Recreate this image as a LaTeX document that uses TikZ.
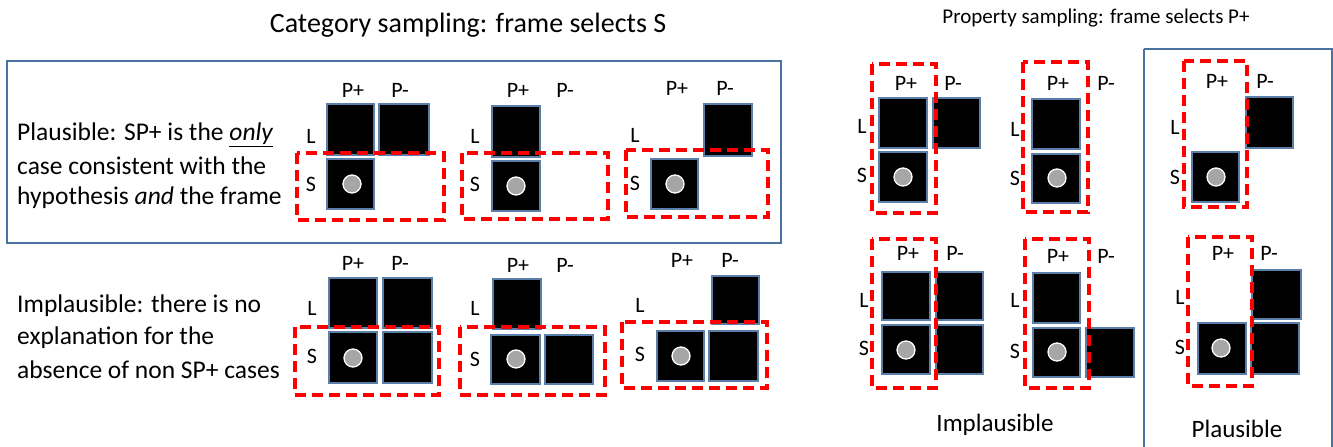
\documentclass[tikz,border=0pt]{standalone}
\usepackage{fontspec}
\setmainfont{Carlito}
\begin{document}
\begin{tikzpicture}[x=1pt,y=-1pt,
  blk/.style={fill=black,draw=boxedge,line width=1.2pt},
  dot/.style={fill=dotgray,draw=white,line width=1.3pt},
  frm/.style={draw=red,line width=3.4pt,dash pattern=on 11pt off 6pt},
  panel/.style={draw=panelblue,line width=1.2pt},
  lbl/.style={font=\fontsize{22}{26}\selectfont,inner sep=0pt},
  big/.style={font=\fontsize{25}{30}\selectfont,inner sep=0pt},
  txt/.style={font=\fontsize{25.5}{30}\selectfont,inner sep=0pt,anchor=west}]
\definecolor{boxedge}{HTML}{5B7FA8}
\definecolor{dotgray}{HTML}{A6A6A6}
\definecolor{panelblue}{HTML}{4A72A0}
\useasboundingbox (0,0) rectangle (1333,447);
% panels
\draw[panel] (7,61) rectangle (781,243);
\draw[panel] (1144,49) -- (1332,49) -- (1332,460) (1144,49) -- (1144,460);
% titles
\node[font=\fontsize{28}{32}\selectfont,inner sep=0pt] (t1) at (468,25) {Category sampling: frame selects S};
\node[lbl,font=\fontsize{21}{25}\selectfont] (t2) at (1096,18) {Property sampling: frame selects P+};
% left texts
\node[txt] (a1) at (17,135) {Plausible: SP+ is the \underline{\textit{only}}};
\node[txt] (a2) at (17,166) {case consistent with the};
\node[txt] (a3) at (17,198) {hypothesis \textit{and} the frame};
\node[txt] (b1) at (17,306) {Implausible: there is no};
\node[txt] (b2) at (17,338) {explanation for the};
\node[txt] (b3) at (17,370) {absence of non SP+ cases};
\node[big] (imp) at (995,425) {Implausible};
\node[big] (pla) at (1237,429) {Plausible};
% ---------- panel 1
\node[lbl] at (353,90) {P+}; \node[lbl] at (400,90) {P-};
\node[lbl] at (311,136) {L}; \node[lbl] at (311,184) {S};
\draw[blk] (327,104) rectangle (374,155);
\draw[blk] (379,104) rectangle (429,155);
\draw[blk] (327,159) rectangle (374,209);
\draw[dot] (352,184) circle (9);
\draw[frm] (297,153) rectangle (444,220);
% ---------- panel 2
\node[lbl] at (518,90) {P+}; \node[lbl] at (565,90) {P-};
\node[lbl] at (475,136) {L}; \node[lbl] at (475,184) {S};
\draw[blk] (492,106) rectangle (540,157);
\draw[blk] (492,161) rectangle (540,211);
\draw[dot] (516,186) circle (9);
\draw[frm] (462,153) rectangle (608,219);
% ---------- panel 3
\node[lbl] at (677,88) {P+}; \node[lbl] at (725,88) {P-};
\node[lbl] at (635,135) {L}; \node[lbl] at (635,183) {S};
\draw[blk] (704,104) rectangle (752,156);
\draw[blk] (651,159) rectangle (698,209);
\draw[dot] (675,184) circle (9);
\draw[frm] (626,150) rectangle (768,217);
% ---------- panel 4
\node[lbl] at (353,263) {P+}; \node[lbl] at (400,263) {P-};
\node[lbl] at (312,308) {L}; \node[lbl] at (312,356) {S};
\draw[blk] (329,278) rectangle (377,328);
\draw[blk] (383,278) rectangle (432,328);
\draw[blk] (329,332) rectangle (377,383);
\draw[blk] (383,332) rectangle (432,383);
\draw[dot] (353,358) circle (9);
\draw[frm] (295,327) rectangle (439,395);
% ---------- panel 5
\node[lbl] at (518,265) {P+}; \node[lbl] at (565,265) {P-};
\node[lbl] at (475,308) {L}; \node[lbl] at (475,359) {S};
\draw[blk] (493,279) rectangle (541,329);
\draw[blk] (491,335) rectangle (540,384);
\draw[blk] (545,335) rectangle (593,384);
\draw[dot] (516,359) circle (9);
\draw[frm] (460,327) rectangle (605,395);
% ---------- panel 6
\node[lbl] at (682,260) {P+}; \node[lbl] at (730,260) {P-};
\node[lbl] at (640,305) {L}; \node[lbl] at (640,354) {S};
\draw[blk] (712,276) rectangle (759,324);
\draw[blk] (657,331) rectangle (704,381);
\draw[blk] (709,331) rectangle (758,381);
\draw[dot] (681,356) circle (9);
\draw[frm] (622,322) rectangle (767,388);
% ---------- panel 7
\node[lbl] at (906,83) {P+}; \node[lbl] at (953,83) {P-};
\node[lbl] at (862,126) {L}; \node[lbl] at (862,175) {S};
\draw[blk] (879,98) rectangle (927,148);
\draw[blk] (933,98) rectangle (980,148);
\draw[blk] (879,152) rectangle (927,202);
\draw[dot] (903,177) circle (9);
\draw[frm] (872,64) rectangle (936,213);
% ---------- panel 8
\node[lbl] at (1058,83) {P+}; \node[lbl] at (1106,83) {P-};
\node[lbl] at (1015,129) {L}; \node[lbl] at (1015,178) {S};
\draw[blk] (1032,99) rectangle (1080,149);
\draw[blk] (1032,154) rectangle (1080,203);
\draw[dot] (1057,178) circle (9);
\draw[frm] (1023,62) rectangle (1088,212);
% ---------- panel 9
\node[lbl] at (1217,81) {P+}; \node[lbl] at (1265,81) {P-};
\node[lbl] at (1175,127) {L}; \node[lbl] at (1175,177) {S};
\draw[blk] (1246,97) rectangle (1293,148);
\draw[blk] (1192,152) rectangle (1239,202);
\draw[dot] (1216,177) circle (9);
\draw[frm] (1184,61) rectangle (1247,207);
% ---------- panel 10
\node[lbl] at (908,253) {P+}; \node[lbl] at (955,253) {P-};
\node[lbl] at (864,300) {L}; \node[lbl] at (864,348) {S};
\draw[blk] (882,272) rectangle (930,320);
\draw[blk] (936,272) rectangle (983,320);
\draw[blk] (882,325) rectangle (930,374);
\draw[blk] (936,325) rectangle (983,374);
\draw[dot] (906,350) circle (9);
\draw[frm] (872,239) rectangle (936,388);
% ---------- panel 11
\node[lbl] at (1058,256) {P+}; \node[lbl] at (1106,256) {P-};
\node[lbl] at (1015,300) {L}; \node[lbl] at (1015,351) {S};
\draw[blk] (1033,273) rectangle (1080,323);
\draw[blk] (1033,328) rectangle (1080,377);
\draw[blk] (1086,328) rectangle (1134,377);
\draw[dot] (1057,352) circle (9);
\draw[frm] (1025,239) rectangle (1089,388);
% ---------- panel 12
\node[lbl] at (1223,253) {P+}; \node[lbl] at (1269,253) {P-};
\node[lbl] at (1180,297) {L}; \node[lbl] at (1180,347) {S};
\draw[blk] (1252,270) rectangle (1301,319);
\draw[blk] (1198,323) rectangle (1246,374);
\draw[blk] (1251,323) rectangle (1299,374);
\draw[dot] (1221,348) circle (9);
\draw[frm] (1188,237) rectangle (1252,386);
\end{tikzpicture}
\end{document}
